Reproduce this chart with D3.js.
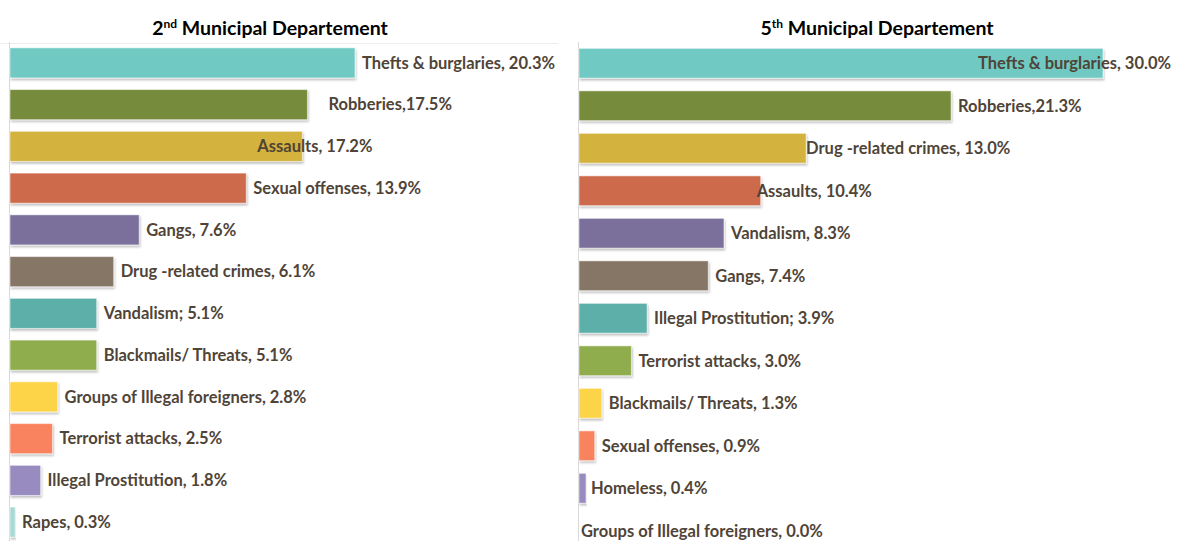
<!DOCTYPE html>
<meta charset="utf-8">
<style>
    body { margin: 0; background: #fff; }
    text { font-family: Lato, "Open Sans", sans-serif; }
    .label { font-size: 16.5px; font-weight: bold; fill: #4f4437; }
    .title { font-size: 19.5px; font-weight: bold; fill: #000; }
    .axis { stroke: #d9d9d9; stroke-width: 1; }
</style>
<body>
<script src="https://cdn.jsdelivr.net/npm/d3@7"></script>
<script>

    var width = 1185,
        height = 541;

    // 2nd Municipal Departement
    var leftCats = ["Thefts & burglaries", "Robberies", "Assaults", "Sexual offenses", "Gangs",
        "Drug -related crimes", "Vandalism", "Blackmails/ Threats", "Groups of Illegal foreigners",
        "Terrorist attacks", "Illegal Prostitution", "Rapes"];
    var leftVals = [20.3, 17.5, 17.2, 13.9, 7.6, 6.1, 5.1, 5.1, 2.8, 2.5, 1.8, 0.3];
    var leftSeps = [", ", ",", ", ", ", ", ", ", ", ", "; ", ", ", ", ", ", ", ", ", ", "];

    // 5th Municipal Departement
    var rightCats = ["Thefts & burglaries", "Robberies", "Drug -related crimes", "Assaults", "Vandalism",
        "Gangs", "Illegal Prostitution", "Terrorist attacks", "Blackmails/ Threats", "Sexual offenses",
        "Homeless", "Groups of Illegal foreigners"];
    var rightVals = [30.0, 21.3, 13.0, 10.4, 8.3, 7.4, 3.9, 3.0, 1.3, 0.9, 0.4, 0.0];
    var rightSeps = [", ", ",", ", ", ", ", ", ", ", ", "; ", ", ", ", ", ", ", ", ", ", "];

    var colors = ["#6fcac3", "#768b3a", "#d3b23c", "#cc6a4c", "#7a6f9b", "#857665",
        "#5db0aa", "#8fad4d", "#fdd447", "#fa835f", "#978bbf", "#a9d9d5"];

    var fmt = d3.format(".1f");

    var svg = d3.select("body").append("svg")
        .attr("width", width)
        .attr("height", height);

    var defs = svg.append("defs");
    defs.append("filter")
        .attr("id", "shadow")
        .attr("x", "-5%").attr("y", "-20%")
        .attr("width", "115%").attr("height", "160%")
        .append("feDropShadow")
        .attr("dx", 1).attr("dy", 2)
        .attr("stdDeviation", 1)
        .attr("flood-color", "#000")
        .attr("flood-opacity", 0.25);

    // faint top border on the left chart
    svg.append("line")
        .attr("class", "axis")
        .attr("x1", 0).attr("x2", 558)
        .attr("y1", 43.5).attr("y2", 43.5)
        .style("stroke", "#ededed");

    function drawPanel(opts) {
        var x = d3.scaleLinear()
            .domain([0, d3.max(opts.vals)])
            .range([opts.x0, opts.x1]);

        var y = d3.scaleBand()
            .domain(opts.cats)
            .range([opts.y0, opts.y1])
            .paddingInner(opts.pad)
            .paddingOuter(opts.pad / 2);

        var g = svg.append("g");

        g.append("text")
            .attr("class", "title")
            .attr("x", opts.titleX)
            .attr("y", 35)
            .attr("text-anchor", "middle")
            .call(function (t) {
                t.append("tspan").text(opts.titleNum);
                t.append("tspan").attr("dy", -7).style("font-size", "12px").text(opts.titleSup);
                t.append("tspan").attr("dy", 7).text(" Municipal Departement");
            });

        g.append("line")
            .attr("class", "axis")
            .attr("x1", opts.x0 - 0.5).attr("x2", opts.x0 - 0.5)
            .attr("y1", 42).attr("y2", height);

        g.selectAll("rect")
            .data(opts.cats)
            .enter().append("rect")
            .attr("x", opts.x0)
            .attr("y", function (d) { return y(d); })
            .attr("width", function (d, i) { return x(opts.vals[i]) - opts.x0; })
            .attr("height", y.bandwidth())
            .style("fill", function (d, i) { return colors[i]; })
            .style("stroke", "rgba(255,255,255,0.5)")
            .style("stroke-width", 1)
            .attr("filter", "url(#shadow)");

        g.selectAll("text.label")
            .data(opts.cats)
            .enter().append("text")
            .attr("class", "label")
            .attr("x", function (d, i) {
                return x(opts.vals[i]) + 7 + (opts.nudge[d] || 0);
            })
            .attr("y", function (d) { return y(d) + y.bandwidth() / 2; })
            .attr("dy", "0.35em")
            .text(function (d, i) { return d + opts.seps[i] + fmt(opts.vals[i]) + "%"; });
    }

    drawPanel({
        cats: leftCats, vals: leftVals, seps: leftSeps,
        x0: 10, x1: 355, y0: 42, y1: 543, pad: 0.28,
        titleX: 270, titleNum: "2", titleSup: "nd",
        nudge: { "Robberies": 14, "Assaults": -52 }
    });

    drawPanel({
        cats: rightCats, vals: rightVals, seps: rightSeps,
        x0: 579, x1: 1103, y0: 42, y1: 552, pad: 0.3,
        titleX: 877, titleNum: "5", titleSup: "th",
        nudge: { "Thefts & burglaries": -132, "Drug -related crimes": -7, "Assaults": -11, "Homeless": -2, "Groups of Illegal foreigners": -5 }
    });

</script>
